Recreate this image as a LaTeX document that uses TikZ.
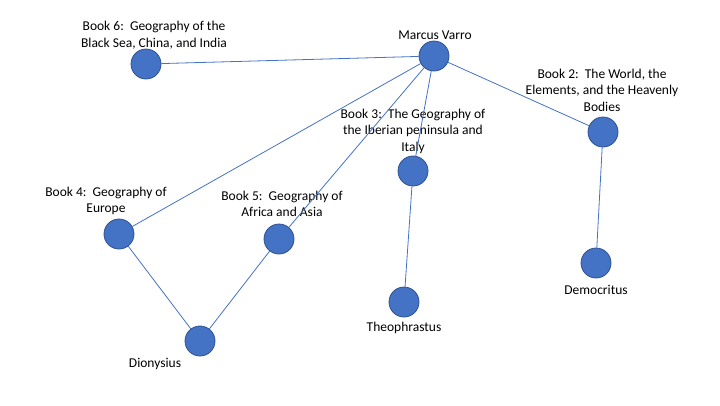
\documentclass[tikz,border=0pt]{standalone}
\usepackage{fontspec}
\setmainfont{Carlito}
\definecolor{nodefill}{HTML}{4472C4}
\definecolor{nodeline}{HTML}{2F528F}
\definecolor{edgecol}{HTML}{4472C4}
\begin{document}
\begin{tikzpicture}[x=1pt,y=-1pt,
  dot/.style={circle,fill=nodefill,draw=nodeline,line width=0.8pt,minimum size=30pt,inner sep=0pt},
  lbl/.style={align=center,font=\fontsize{13.5}{16.6}\selectfont,inner sep=0pt,text=black},
  edge/.style={draw=edgecol,line width=0.8pt}]
\useasboundingbox (0,0) rectangle (720,405);
% circles
\node[dot] (varro) at (434,56) {};
\node[dot] (b6) at (146,64) {};
\node[dot] (b2) at (603,132) {};
\node[dot] (b3) at (413,171) {};
\node[dot] (b4) at (119,234) {};
\node[dot] (b5) at (279,239) {};
\node[dot] (dem) at (596,263) {};
\node[dot] (theo) at (404,302) {};
\node[dot] (dio) at (200,341) {};
% labels
\node[lbl] (lvarro) at (435,35) {Marcus Varro};
\node[lbl] (lb6) at (154,35) {Book 6:\ \ Geography of the\\Black Sea, China, and India};
\node[lbl] (lb2) at (602,90) {Book 2:\ \ The World, the\\Elements, and the Heavenly\\Bodies};
\node[lbl] (lb3) at (413,131) {Book 3:\ \ The Geography of\\the Iberian peninsula and\\Italy};
\node[lbl] (lb4) at (106,201) {Book 4:\ \ Geography of\\Europe};
\node[lbl] (lb5) at (282,204) {Book 5:\ \ Geography of\\Africa and Asia};
\node[lbl] (ldem) at (596,290) {Democritus};
\node[lbl] (ltheo) at (404,328) {Theophrastus};
\node[lbl] (ldio) at (155,364) {Dionysius};
% edges
\draw[edge] (varro) -- (b6);
\draw[edge] (varro) -- (b2);
\draw[edge] (varro) -- (b3);
\draw[edge] (varro) -- (b4);
\draw[edge] (varro) -- (b5);
\draw[edge] (b2) -- (dem);
\draw[edge] (b3) -- (theo);
\draw[edge] (b4) -- (dio);
\draw[edge] (b5) -- (dio);
\end{tikzpicture}
\end{document}
